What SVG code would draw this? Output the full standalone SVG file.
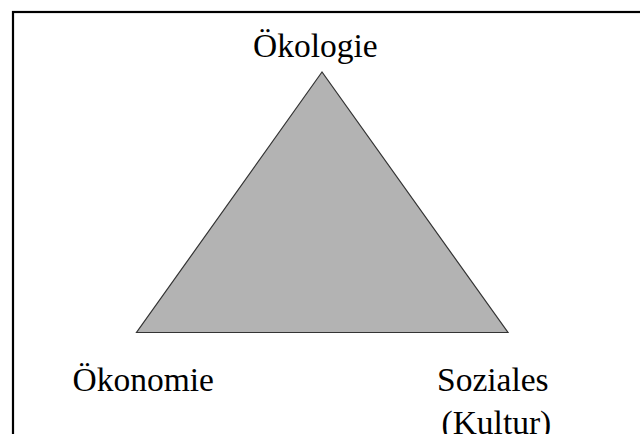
<svg xmlns="http://www.w3.org/2000/svg" width="640" height="434" viewBox="0 0 640 434">
  <style>
    .lbl { font-family: "Liberation Serif", "Times New Roman", serif; font-size: 33.5px; fill: #000; }
  </style>
  <rect width="640" height="434" fill="#fff"/>
  <!-- outer frame, running off the right and bottom edges -->
  <rect x="13" y="12" width="660" height="460" fill="none" stroke="#000" stroke-width="2.2"/>
  <g id="triangle">
    <polygon points="322,72 136.5,332.5 508,332.5" fill="#b3b3b3" stroke="#333" stroke-width="1.2"/>
  </g>
  <g id="oekologie">
    <text class="lbl" x="253" y="56.5">Ökologie</text>
  </g>
  <g id="oekonomie">
    <text class="lbl" x="72.5" y="390.5">Ökonomie</text>
  </g>
  <g id="soziales">
    <text class="lbl" x="437" y="390.5">Soziales</text>
    <text class="lbl" x="441.5" y="433.5">(Kultur)</text>
  </g>
</svg>
